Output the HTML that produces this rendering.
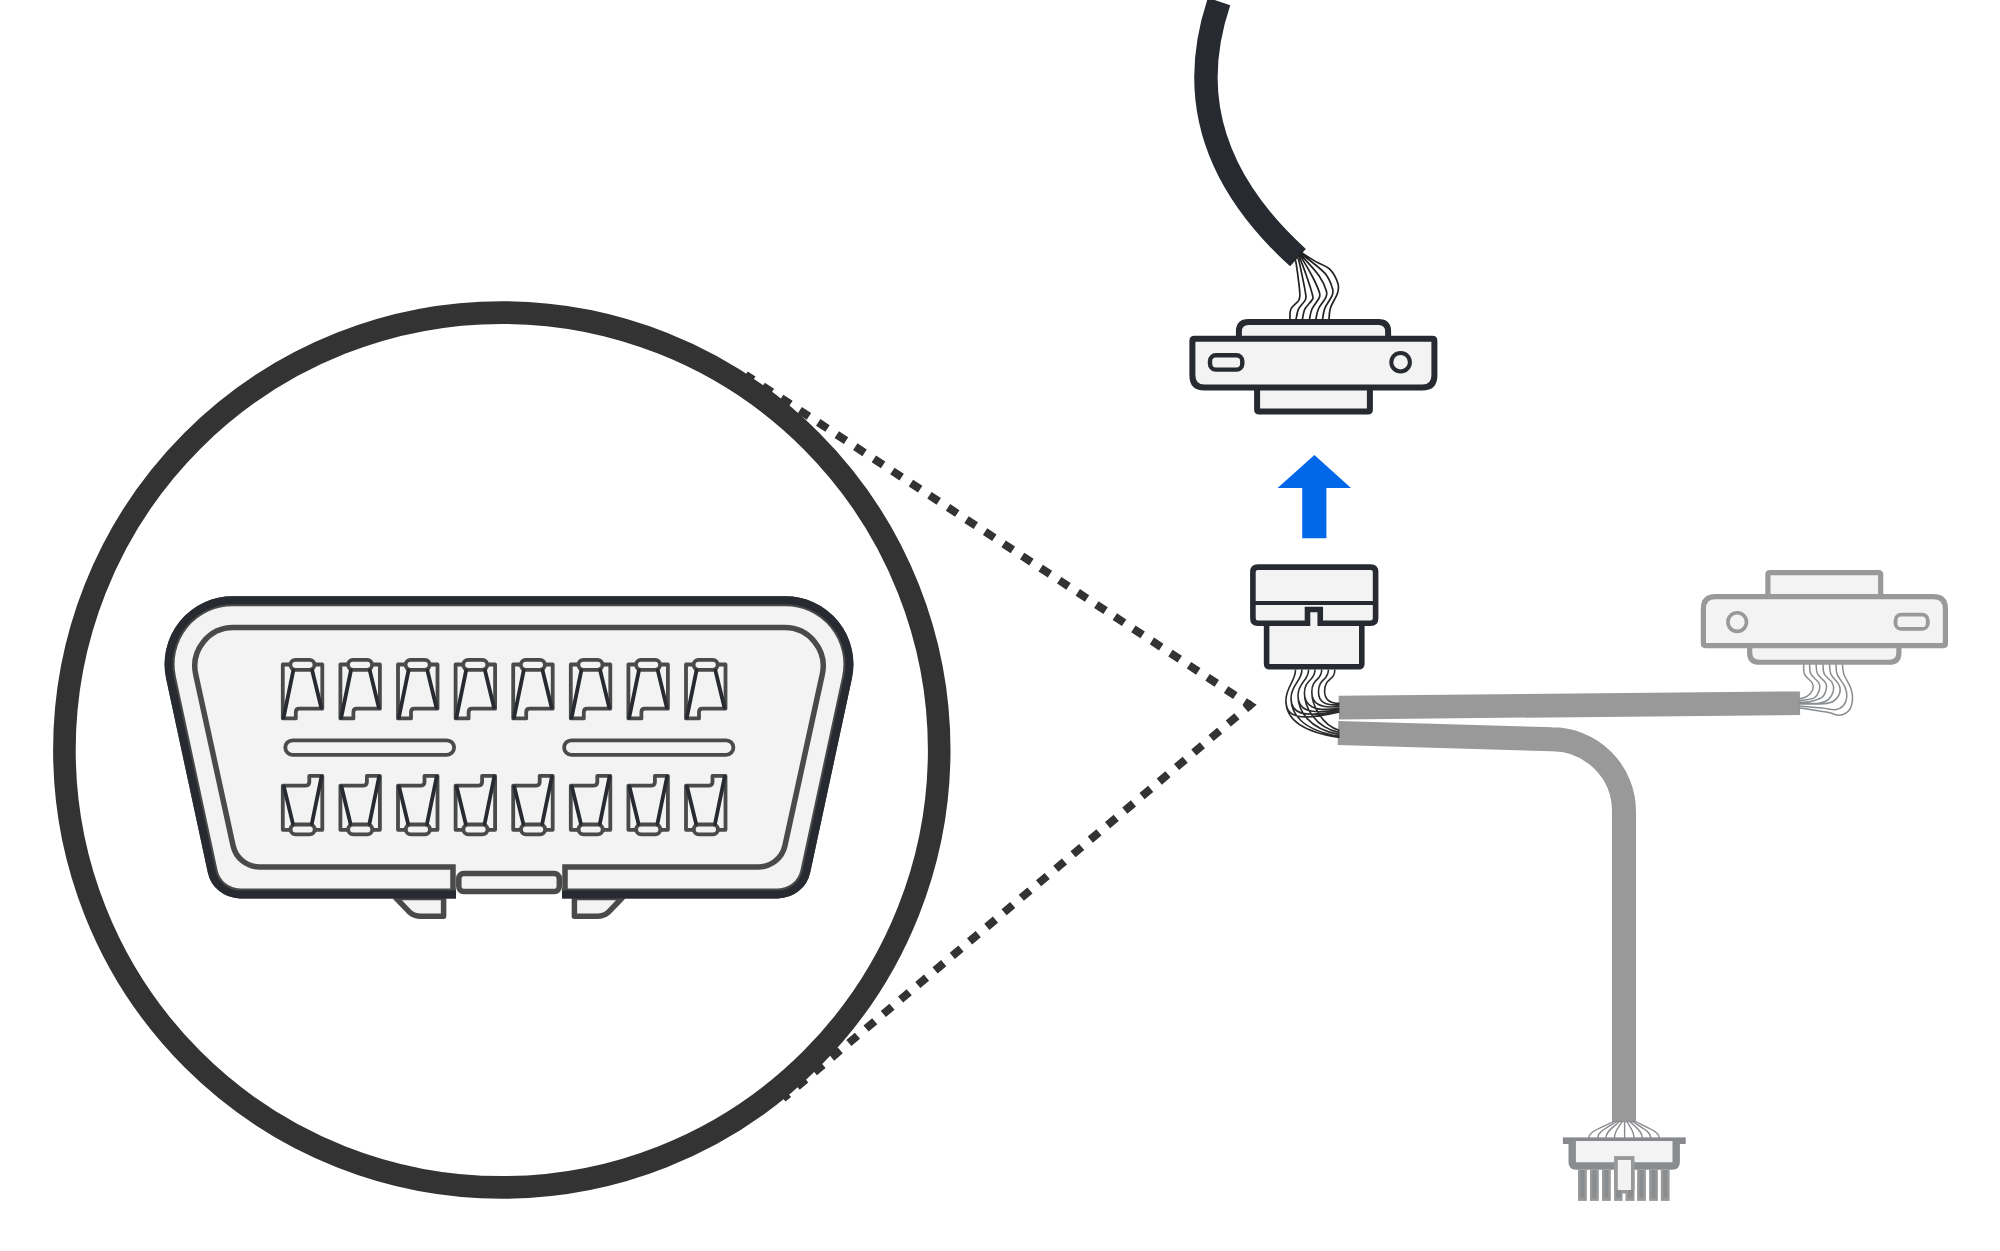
<!DOCTYPE html><html><head><meta charset="utf-8"><style>html,body{margin:0;padding:0;background:#fff;overflow:hidden}svg{display:block}</style></head><body><svg width="2000" height="1251" viewBox="0 0 2000 1251">
<rect width="2000" height="1251" fill="#fff"/>
<path d="M745.5 374.8L1250 705.2" fill="none" stroke="#333" stroke-width="8" stroke-dasharray="11.08 11.08" stroke-dashoffset="1.7"/>
<path d="M1250 705.2L783 1098.5" fill="none" stroke="#333" stroke-width="8" stroke-dasharray="11.27 11.28" stroke-dashoffset="5.46"/>
<path d="M1247.5 703.56L1250 705.2L1247.7 707.13" fill="none" stroke="#333" stroke-width="8" stroke-linejoin="miter" stroke-miterlimit="10"/>
<circle cx="501.8" cy="750" r="437.4" fill="none" stroke="#333333" stroke-width="22.6"/>
<path d="M232.59 601.2L785.41 601.2A63 63 0 0 1 847 677.44L805.31 871.34A28 28 0 0 1 777.94 893.45L240.06 893.45A28 28 0 0 1 212.69 871.34L171 677.44A63 63 0 0 1 232.59 601.2Z" fill="#f3f3f3"/>
<path d="M395.5 897.5L410 912.6Q414 916.3 421 916.3H443.6 V897.5Z" fill="#f3f3f3" stroke="#4a4a4a" stroke-width="5.5" stroke-linejoin="round"/>
<path d="M622.5 897.5L608 912.6Q604 916.3 597 916.3H574.4 V897.5Z" fill="#f3f3f3" stroke="#4a4a4a" stroke-width="5.5" stroke-linejoin="round"/>
<rect x="456" y="894.2" width="106" height="10" fill="#fff"/>
<path d="M453 894L453 866.95L259.44 866.95 A27 27 0 0 1 233.06 845.7L195.7 674.3 A38.5 38.5 0 0 1 233.31 627.6L784.69 627.6 A38.5 38.5 0 0 1 822.3 674.3L784.94 845.7 A27 27 0 0 1 758.56 866.95L565 866.95L565 894" fill="none" stroke="#4a4a4a" stroke-width="5.5" stroke-linejoin="miter"/>
<rect x="458.8" y="873.6" width="100.5" height="17.8" rx="5" fill="#f3f3f3" stroke="#4a4a4a" stroke-width="5.5"/>
<path d="M456 893.45L240.06 893.45 A28 28 0 0 1 212.69 871.34L171 677.44 A63 63 0 0 1 232.59 601.2L785.41 601.2 A63 63 0 0 1 847 677.44L805.31 871.34 A28 28 0 0 1 777.94 893.45L562 893.45" fill="none" stroke="#4a4a4a" stroke-width="10"/>
<path d="M456 894.45L240.06 894.45 A29 29 0 0 1 211.71 871.55L170.02 677.65 A64 64 0 0 1 232.59 600.2L785.41 600.2 A64 64 0 0 1 847.98 677.65L806.29 871.55 A29 29 0 0 1 777.94 894.45L562 894.45" fill="none" stroke="#272a31" stroke-width="8"/>
<rect x="285.3" y="740.3" width="168.8" height="14.5" rx="7.25" fill="none" stroke="#4a4a4a" stroke-width="3.8"/>
<rect x="564.1" y="740.3" width="169.3" height="14.5" rx="7.25" fill="none" stroke="#4a4a4a" stroke-width="3.8"/>
<g transform="translate(0 0)"><path d="M290.4 664.5H282.8V718.4H295.8V712.2Q295.8 708.7 299.3 708.7H322.3V664.5H314.5" fill="none" stroke="#4a4a4a" stroke-width="3.8" stroke-linejoin="round"/><rect x="290.4" y="659.9" width="24.1" height="9.9" rx="4.95" fill="#f3f3f3" stroke="#4a4a4a" stroke-width="3.8"/><path d="M293.3 670.5L283.6 717.6M312.2 670.5L321.2 707.5" stroke="#272a31" stroke-width="3.8" stroke-linecap="round"/></g>
<g transform="translate(0 111.4) rotate(180 302.55 691.45)"><path d="M290.4 664.5H282.8V718.4H295.8V712.2Q295.8 708.7 299.3 708.7H322.3V664.5H314.5" fill="none" stroke="#4a4a4a" stroke-width="3.8" stroke-linejoin="round"/><rect x="290.4" y="659.9" width="24.1" height="9.9" rx="4.95" fill="#f3f3f3" stroke="#4a4a4a" stroke-width="3.8"/><path d="M293.3 670.5L283.6 717.6M312.2 670.5L321.2 707.5" stroke="#272a31" stroke-width="3.8" stroke-linecap="round"/></g>
<g transform="translate(57.6 0)"><path d="M290.4 664.5H282.8V718.4H295.8V712.2Q295.8 708.7 299.3 708.7H322.3V664.5H314.5" fill="none" stroke="#4a4a4a" stroke-width="3.8" stroke-linejoin="round"/><rect x="290.4" y="659.9" width="24.1" height="9.9" rx="4.95" fill="#f3f3f3" stroke="#4a4a4a" stroke-width="3.8"/><path d="M293.3 670.5L283.6 717.6M312.2 670.5L321.2 707.5" stroke="#272a31" stroke-width="3.8" stroke-linecap="round"/></g>
<g transform="translate(57.6 111.4) rotate(180 302.55 691.45)"><path d="M290.4 664.5H282.8V718.4H295.8V712.2Q295.8 708.7 299.3 708.7H322.3V664.5H314.5" fill="none" stroke="#4a4a4a" stroke-width="3.8" stroke-linejoin="round"/><rect x="290.4" y="659.9" width="24.1" height="9.9" rx="4.95" fill="#f3f3f3" stroke="#4a4a4a" stroke-width="3.8"/><path d="M293.3 670.5L283.6 717.6M312.2 670.5L321.2 707.5" stroke="#272a31" stroke-width="3.8" stroke-linecap="round"/></g>
<g transform="translate(115.2 0)"><path d="M290.4 664.5H282.8V718.4H295.8V712.2Q295.8 708.7 299.3 708.7H322.3V664.5H314.5" fill="none" stroke="#4a4a4a" stroke-width="3.8" stroke-linejoin="round"/><rect x="290.4" y="659.9" width="24.1" height="9.9" rx="4.95" fill="#f3f3f3" stroke="#4a4a4a" stroke-width="3.8"/><path d="M293.3 670.5L283.6 717.6M312.2 670.5L321.2 707.5" stroke="#272a31" stroke-width="3.8" stroke-linecap="round"/></g>
<g transform="translate(115.2 111.4) rotate(180 302.55 691.45)"><path d="M290.4 664.5H282.8V718.4H295.8V712.2Q295.8 708.7 299.3 708.7H322.3V664.5H314.5" fill="none" stroke="#4a4a4a" stroke-width="3.8" stroke-linejoin="round"/><rect x="290.4" y="659.9" width="24.1" height="9.9" rx="4.95" fill="#f3f3f3" stroke="#4a4a4a" stroke-width="3.8"/><path d="M293.3 670.5L283.6 717.6M312.2 670.5L321.2 707.5" stroke="#272a31" stroke-width="3.8" stroke-linecap="round"/></g>
<g transform="translate(172.8 0)"><path d="M290.4 664.5H282.8V718.4H295.8V712.2Q295.8 708.7 299.3 708.7H322.3V664.5H314.5" fill="none" stroke="#4a4a4a" stroke-width="3.8" stroke-linejoin="round"/><rect x="290.4" y="659.9" width="24.1" height="9.9" rx="4.95" fill="#f3f3f3" stroke="#4a4a4a" stroke-width="3.8"/><path d="M293.3 670.5L283.6 717.6M312.2 670.5L321.2 707.5" stroke="#272a31" stroke-width="3.8" stroke-linecap="round"/></g>
<g transform="translate(172.8 111.4) rotate(180 302.55 691.45)"><path d="M290.4 664.5H282.8V718.4H295.8V712.2Q295.8 708.7 299.3 708.7H322.3V664.5H314.5" fill="none" stroke="#4a4a4a" stroke-width="3.8" stroke-linejoin="round"/><rect x="290.4" y="659.9" width="24.1" height="9.9" rx="4.95" fill="#f3f3f3" stroke="#4a4a4a" stroke-width="3.8"/><path d="M293.3 670.5L283.6 717.6M312.2 670.5L321.2 707.5" stroke="#272a31" stroke-width="3.8" stroke-linecap="round"/></g>
<g transform="translate(230.4 0)"><path d="M290.4 664.5H282.8V718.4H295.8V712.2Q295.8 708.7 299.3 708.7H322.3V664.5H314.5" fill="none" stroke="#4a4a4a" stroke-width="3.8" stroke-linejoin="round"/><rect x="290.4" y="659.9" width="24.1" height="9.9" rx="4.95" fill="#f3f3f3" stroke="#4a4a4a" stroke-width="3.8"/><path d="M293.3 670.5L283.6 717.6M312.2 670.5L321.2 707.5" stroke="#272a31" stroke-width="3.8" stroke-linecap="round"/></g>
<g transform="translate(230.4 111.4) rotate(180 302.55 691.45)"><path d="M290.4 664.5H282.8V718.4H295.8V712.2Q295.8 708.7 299.3 708.7H322.3V664.5H314.5" fill="none" stroke="#4a4a4a" stroke-width="3.8" stroke-linejoin="round"/><rect x="290.4" y="659.9" width="24.1" height="9.9" rx="4.95" fill="#f3f3f3" stroke="#4a4a4a" stroke-width="3.8"/><path d="M293.3 670.5L283.6 717.6M312.2 670.5L321.2 707.5" stroke="#272a31" stroke-width="3.8" stroke-linecap="round"/></g>
<g transform="translate(288 0)"><path d="M290.4 664.5H282.8V718.4H295.8V712.2Q295.8 708.7 299.3 708.7H322.3V664.5H314.5" fill="none" stroke="#4a4a4a" stroke-width="3.8" stroke-linejoin="round"/><rect x="290.4" y="659.9" width="24.1" height="9.9" rx="4.95" fill="#f3f3f3" stroke="#4a4a4a" stroke-width="3.8"/><path d="M293.3 670.5L283.6 717.6M312.2 670.5L321.2 707.5" stroke="#272a31" stroke-width="3.8" stroke-linecap="round"/></g>
<g transform="translate(288 111.4) rotate(180 302.55 691.45)"><path d="M290.4 664.5H282.8V718.4H295.8V712.2Q295.8 708.7 299.3 708.7H322.3V664.5H314.5" fill="none" stroke="#4a4a4a" stroke-width="3.8" stroke-linejoin="round"/><rect x="290.4" y="659.9" width="24.1" height="9.9" rx="4.95" fill="#f3f3f3" stroke="#4a4a4a" stroke-width="3.8"/><path d="M293.3 670.5L283.6 717.6M312.2 670.5L321.2 707.5" stroke="#272a31" stroke-width="3.8" stroke-linecap="round"/></g>
<g transform="translate(345.6 0)"><path d="M290.4 664.5H282.8V718.4H295.8V712.2Q295.8 708.7 299.3 708.7H322.3V664.5H314.5" fill="none" stroke="#4a4a4a" stroke-width="3.8" stroke-linejoin="round"/><rect x="290.4" y="659.9" width="24.1" height="9.9" rx="4.95" fill="#f3f3f3" stroke="#4a4a4a" stroke-width="3.8"/><path d="M293.3 670.5L283.6 717.6M312.2 670.5L321.2 707.5" stroke="#272a31" stroke-width="3.8" stroke-linecap="round"/></g>
<g transform="translate(345.6 111.4) rotate(180 302.55 691.45)"><path d="M290.4 664.5H282.8V718.4H295.8V712.2Q295.8 708.7 299.3 708.7H322.3V664.5H314.5" fill="none" stroke="#4a4a4a" stroke-width="3.8" stroke-linejoin="round"/><rect x="290.4" y="659.9" width="24.1" height="9.9" rx="4.95" fill="#f3f3f3" stroke="#4a4a4a" stroke-width="3.8"/><path d="M293.3 670.5L283.6 717.6M312.2 670.5L321.2 707.5" stroke="#272a31" stroke-width="3.8" stroke-linecap="round"/></g>
<g transform="translate(403.2 0)"><path d="M290.4 664.5H282.8V718.4H295.8V712.2Q295.8 708.7 299.3 708.7H322.3V664.5H314.5" fill="none" stroke="#4a4a4a" stroke-width="3.8" stroke-linejoin="round"/><rect x="290.4" y="659.9" width="24.1" height="9.9" rx="4.95" fill="#f3f3f3" stroke="#4a4a4a" stroke-width="3.8"/><path d="M293.3 670.5L283.6 717.6M312.2 670.5L321.2 707.5" stroke="#272a31" stroke-width="3.8" stroke-linecap="round"/></g>
<g transform="translate(403.2 111.4) rotate(180 302.55 691.45)"><path d="M290.4 664.5H282.8V718.4H295.8V712.2Q295.8 708.7 299.3 708.7H322.3V664.5H314.5" fill="none" stroke="#4a4a4a" stroke-width="3.8" stroke-linejoin="round"/><rect x="290.4" y="659.9" width="24.1" height="9.9" rx="4.95" fill="#f3f3f3" stroke="#4a4a4a" stroke-width="3.8"/><path d="M293.3 670.5L283.6 717.6M312.2 670.5L321.2 707.5" stroke="#272a31" stroke-width="3.8" stroke-linecap="round"/></g>
<path d="M1314.4 455L1351 487.9H1326.4V538.3H1302.2V487.9H1277.6Z" fill="#0367e9"/>
<path d="M1266.6 623.3V663.7Q1266.6 666.7 1269.6 666.7H1358.8Q1361.8 666.7 1361.8 663.7V623.3" fill="#f3f3f3" stroke="#272a31" stroke-width="5.6"/>
<rect x="1307.5" y="609.5" width="12.75" height="17" fill="#f3f3f3"/>
<path d="M1257.9 567.1H1370.6Q1375.6 567.1 1375.6 572.1V618.3Q1375.6 623.3 1370.6 623.3H1320.25V609.5H1307.5V623.3H1257.9Q1252.9 623.3 1252.9 618.3V572.1Q1252.9 567.1 1257.9 567.1Z" fill="#f3f3f3" stroke="#272a31" stroke-width="5.6"/>
<path d="M1252.9 603.1H1375.6" stroke="#272a31" stroke-width="4"/>
<path d="M1338.75 707.6L1800 703.2" stroke="#999999" stroke-width="23.6" fill="none"/>
<path d="M1338 733L1552 739.3A72 72 0 0 1 1624 811.3V1122.2" stroke="#999999" stroke-width="24" fill="none"/>
<path d="M1295.5 669.5C1295.8 681 1285.9 686.8 1285.9 700.8C1285.9 718 1300 721 1339.5 711.9 M1285.9 700.8C1285.9 716 1296 731.2 1339.5 737.5 M1301.9 669.5C1302.2 681 1291 684.2 1291 698.2C1291 713.83 1303.48 718.18 1339.5 710.6 M1291 698.2C1291 712.88 1301.12 730.25 1339.5 736.2 M1308.6 669.5C1308.9 681 1298 681.7 1298 695.7C1298 709.77 1308.87 715.37 1339.5 709.3 M1298 695.7C1298 709.85 1308.15 729 1339.5 734.6 M1315 669.5C1315.3 681 1304.4 679.1 1304.4 693.1C1304.4 705.6 1313.65 712.55 1339.5 708 M1304.4 693.1C1304.4 706.73 1314.58 727.35 1339.5 732.6 M1321.7 669.5C1322 681 1311.8 677.9 1311.8 691.9C1311.8 702.83 1319.43 709.23 1339.5 706.2 M1311.8 691.9C1311.8 705 1322 725.5 1339.5 730.4 M1328.4 669.5C1328.7 681 1318.5 677.9 1318.5 691.9C1318.5 701.27 1324.52 706.12 1339.5 704.6 M1334.8 669.5C1335.1 681 1324.6 677.2 1324.6 691.2C1324.6 699 1329 703.4 1339.5 703.4" fill="none" stroke="#2b2b2b" stroke-width="1.6"/>
<path d="M1219.1 1.5C1202.2 51.7 1181.1 151.7 1298 257.6" stroke="#272a31" stroke-width="23.5" fill="none"/>
<path d="M1238.9 338.7V331.5Q1238.9 322 1248.4 322H1378.6Q1388.1 322 1388.1 331.5V338.7" fill="#f3f3f3" stroke="#272a31" stroke-width="6"/><path d="M1257.1 387.6V409.6Q1257.1 411.6 1259.1 411.6H1367.9Q1369.9 411.6 1369.9 409.6V387.6" fill="#f3f3f3" stroke="#272a31" stroke-width="6"/><path d="M1194.4 338.7H1432.4Q1434.4 338.7 1434.4 340.7V375.6Q1434.4 387.6 1422.4 387.6H1204.4Q1192.4 387.6 1192.4 375.6V340.7Q1192.4 338.7 1194.4 338.7Z" fill="#f3f3f3" stroke="#272a31" stroke-width="6"/><rect x="1210" y="355.3" width="32.3" height="14.3" rx="5.8" fill="#f3f3f3" stroke="#272a31" stroke-width="4.4"/><circle cx="1400.6" cy="362.2" r="9.3" fill="#f3f3f3" stroke="#272a31" stroke-width="4"/>
<path d="M1293.44 258.95C1293.81 259.29 1294.77 256.92 1295.67 260.99C1296.58 265.07 1298.18 277.74 1298.87 283.39C1299.57 289.04 1299.89 292.02 1299.83 294.9C1299.78 297.78 1300.05 298.32 1298.55 300.66C1297.06 303.01 1292.32 305.83 1290.88 308.98C1289.44 312.13 1290.08 317.78 1289.92 319.54 M1296.31 257.67C1296.69 258.01 1297.65 257.03 1298.55 259.72C1299.46 262.4 1300.58 268.14 1301.75 273.79C1302.93 279.44 1305.01 289.25 1305.59 293.62C1306.18 298 1306.44 297.46 1305.27 300.02C1304.1 302.58 1300.1 305.73 1298.55 308.98C1297.01 312.23 1296.42 317.78 1295.99 319.54 M1297.59 256.39C1297.97 256.73 1298.29 255 1299.83 258.44C1301.38 261.87 1304.74 270.81 1306.87 276.99C1309 283.17 1311.78 291.71 1312.63 295.54C1313.48 299.38 1313.27 297.78 1311.99 300.02C1310.71 302.26 1306.55 305.73 1304.95 308.98C1303.35 312.23 1302.82 317.78 1302.39 319.54 M1298.87 255.11C1299.25 255.45 1298.82 253.51 1301.11 257.16C1303.41 260.8 1309.59 271.12 1312.63 276.99C1315.67 282.85 1318.28 288.83 1319.35 292.34C1320.41 295.86 1320.25 295.33 1319.03 298.1C1317.8 300.88 1313.59 305.41 1311.99 308.98C1310.39 312.55 1309.86 317.78 1309.43 319.54 M1299.51 253.83C1299.89 254.17 1298.5 252.23 1301.75 255.88C1305.01 259.52 1314.92 269.85 1319.03 275.71C1323.13 281.57 1325.32 287.33 1326.39 291.07C1327.45 294.8 1326.76 295.12 1325.43 298.1C1324.09 301.09 1319.99 305.41 1318.39 308.98C1316.79 312.55 1316.26 317.78 1315.83 319.54 M1300.15 252.55C1300.53 252.89 1298.29 251.16 1302.39 254.6C1306.5 258.03 1319.77 267.5 1324.79 273.15C1329.8 278.8 1331.29 284.67 1332.46 288.51C1333.64 292.34 1333.1 292.88 1331.82 296.18C1330.54 299.49 1326.33 304.45 1324.79 308.34C1323.24 312.23 1322.92 317.67 1322.55 319.54 M1300.15 251.27C1300.53 251.61 1299.78 251.59 1302.39 253.32C1305.01 255.04 1311.24 258.97 1315.83 261.63C1320.41 264.3 1326.23 265.69 1329.9 269.31C1333.58 272.94 1336.62 279.44 1337.9 283.39C1339.18 287.33 1338.81 288.93 1337.58 292.98C1336.36 297.04 1331.98 303.27 1330.54 307.7C1329.1 312.13 1329.21 317.56 1328.94 319.54" fill="none" stroke="#222" stroke-width="1.7"/>
<g transform="translate(511 250.65) rotate(180 1313.4 366.8)"><path d="M1238.9 338.7V331.5Q1238.9 322 1248.4 322H1378.6Q1388.1 322 1388.1 331.5V338.7" fill="#f3f3f3" stroke="#999999" stroke-width="5.2"/><path d="M1257.1 387.6V409.6Q1257.1 411.6 1259.1 411.6H1367.9Q1369.9 411.6 1369.9 409.6V387.6" fill="#f3f3f3" stroke="#999999" stroke-width="5.2"/><path d="M1194.4 338.7H1432.4Q1434.4 338.7 1434.4 340.7V375.6Q1434.4 387.6 1422.4 387.6H1204.4Q1192.4 387.6 1192.4 375.6V340.7Q1192.4 338.7 1194.4 338.7Z" fill="#f3f3f3" stroke="#999999" stroke-width="5.2"/><rect x="1210" y="355.3" width="32.3" height="14.3" rx="5.8" fill="#f3f3f3" stroke="#999999" stroke-width="3.8"/><circle cx="1400.6" cy="362.2" r="9.3" fill="#f3f3f3" stroke="#999999" stroke-width="3.6"/></g>
<path d="M1803.63 664.32C1803.79 666 1803.15 671.27 1804.59 674.39C1806.03 677.51 1810.91 680.46 1812.27 683.02C1813.63 685.58 1813.63 687.5 1812.75 689.74C1811.87 691.97 1809.23 694.93 1806.99 696.45C1804.75 697.97 1800.6 698.45 1799.32 698.85 M1809.63 664.32C1809.83 665.92 1809.27 670.79 1810.83 673.91C1812.39 677.03 1817.54 680.38 1818.98 683.02C1820.42 685.66 1820.26 687.26 1819.46 689.74C1818.66 692.21 1817.54 696.05 1814.18 697.89C1810.83 699.73 1801.79 700.29 1799.32 700.77 M1816.1 664.32C1816.34 665.92 1815.94 670.79 1817.54 673.91C1819.14 677.03 1824.26 680.38 1825.7 683.02C1827.13 685.66 1826.81 687.34 1826.18 689.74C1825.54 692.13 1824.66 695.41 1821.86 697.41C1819.06 699.41 1813.15 700.93 1809.39 701.73C1805.63 702.53 1801 702.13 1799.32 702.21 M1823.06 664.32C1823.26 665.92 1822.7 670.79 1824.26 673.91C1825.82 677.03 1830.89 680.22 1832.41 683.02C1833.93 685.82 1834.01 687.98 1833.37 690.7C1832.73 693.41 1830.97 697.25 1828.57 699.33C1826.18 701.41 1823.86 702.53 1818.98 703.17C1814.1 703.8 1802.59 703.17 1799.32 703.17 M1829.53 664.32C1829.77 666 1829.37 670.95 1830.97 674.39C1832.57 677.83 1837.69 681.74 1839.12 684.94C1840.56 688.14 1840.56 690.86 1839.6 693.57C1838.65 696.29 1836.01 699.57 1833.37 701.25C1830.73 702.93 1829.45 703.17 1823.78 703.65C1818.1 704.12 1803.39 704.04 1799.32 704.12 M1836.01 664.32C1836.21 666 1835.73 670.63 1837.21 674.39C1838.69 678.15 1843.28 683.18 1844.88 686.86C1846.48 690.54 1847.04 693.33 1846.8 696.45C1846.56 699.57 1845.36 703.37 1843.44 705.56C1841.52 707.76 1838.88 709.24 1835.29 709.64C1831.69 710.04 1827.85 708.56 1821.86 707.96C1815.86 707.36 1803.07 706.36 1799.32 706.04 M1842.48 664.32C1842.72 666 1842.56 670.47 1843.92 674.39C1845.28 678.31 1849.2 683.66 1850.64 687.82C1852.07 691.97 1852.87 695.49 1852.55 699.33C1852.23 703.17 1850.96 708.2 1848.72 710.84C1846.48 713.48 1842.64 714.92 1839.12 715.16C1835.61 715.4 1834.25 713.48 1827.61 712.28C1820.98 711.08 1804.03 708.68 1799.32 707.96" fill="none" stroke="#8a8d90" stroke-width="1.5"/>
<path d="M1614.2 1121C1605.3 1126.5 1588.8 1130.5 1588.8 1138 M1616.9 1121C1610.2 1126.5 1597.8 1130.5 1597.8 1138 M1619.6 1121C1614.8 1126.5 1605.9 1130.5 1605.9 1138 M1622.3 1121C1619.5 1126.5 1614.4 1130.5 1614.4 1138 M1624.6 1121V1138 M1626.8 1121C1629.3 1126.5 1634.0 1130.5 1634.0 1138 M1629.5 1121C1634.0 1126.5 1642.3 1130.5 1642.3 1138 M1632.2 1121C1638.7 1126.5 1650.7 1130.5 1650.7 1138 M1634.9 1121C1643.4 1126.5 1659.2 1130.5 1659.2 1138" fill="none" stroke="#87898d" stroke-width="1.4"/>
<rect x="1562.9" y="1137.4" width="122.8" height="6.6" fill="#87898d"/>
<path d="M1572.2 1141V1162Q1572.2 1166 1576.2 1166H1672.2Q1676.2 1166 1676.2 1162V1141" fill="#f3f3f3" stroke="#8a8d90" stroke-width="7.4"/>
<rect x="1578" y="1169.6" width="8.8" height="31.3" fill="#999"/><rect x="1580.4" y="1170" width="4" height="28" fill="#8a8d90"/>
<rect x="1590" y="1169.6" width="8.8" height="31.3" fill="#999"/><rect x="1592.4" y="1170" width="4" height="28" fill="#8a8d90"/>
<rect x="1602" y="1169.6" width="8.8" height="31.3" fill="#999"/><rect x="1604.4" y="1170" width="4" height="28" fill="#8a8d90"/>
<rect x="1637.1" y="1169.6" width="8.8" height="31.3" fill="#999"/><rect x="1639.5" y="1170" width="4" height="28" fill="#8a8d90"/>
<rect x="1649.1" y="1169.6" width="8.8" height="31.3" fill="#999"/><rect x="1651.5" y="1170" width="4" height="28" fill="#8a8d90"/>
<rect x="1660.8" y="1169.6" width="8.8" height="31.3" fill="#999"/><rect x="1663.2" y="1170" width="4" height="28" fill="#8a8d90"/>
<rect x="1614.1" y="1169" width="20.4" height="31.9" fill="#999"/>
<rect x="1616" y="1190" width="5" height="8" fill="#8a8d90"/><rect x="1628" y="1190" width="5" height="8" fill="#8a8d90"/><rect x="1622.5" y="1193.5" width="3" height="7.4" fill="#fff"/>
<rect x="1614.1" y="1156.1" width="20.4" height="34" fill="#999"/><rect x="1617.8" y="1160" width="13.2" height="30" rx="1" fill="#f3f3f3"/>
</svg></body></html>
